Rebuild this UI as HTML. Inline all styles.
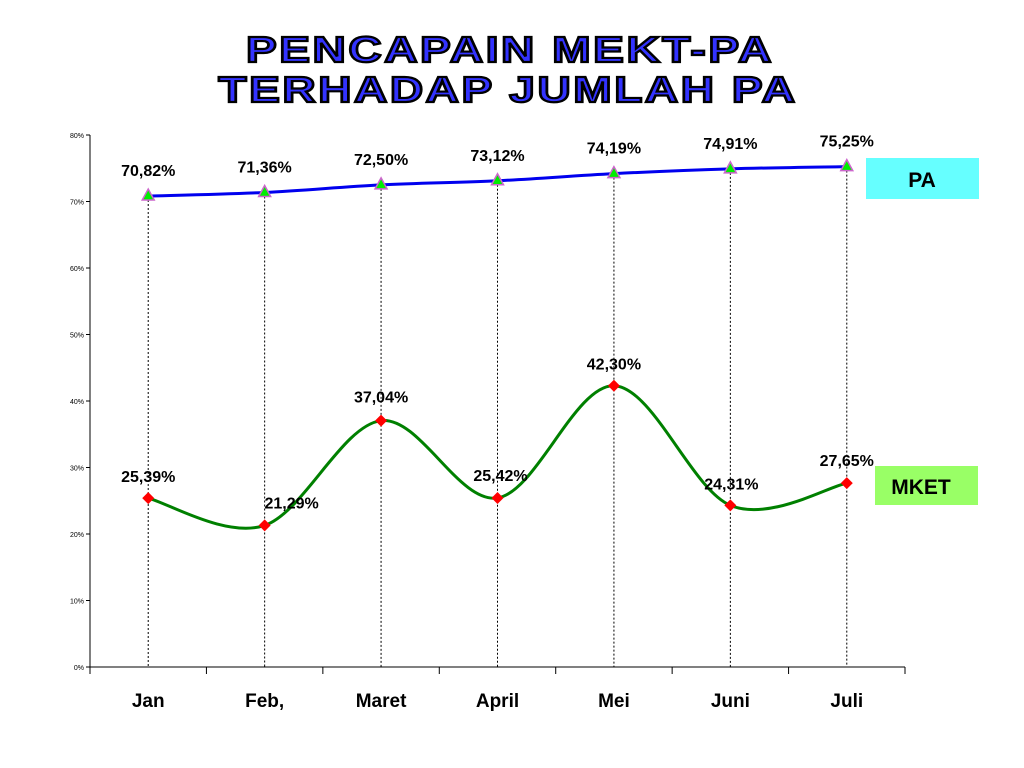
<!DOCTYPE html>
<html><head><meta charset="utf-8"><style>
body{margin:0;background:#fff;width:1024px;height:768px;overflow:hidden}
svg{display:block;font-family:"Liberation Sans",Arial,sans-serif}
</style></head><body>
<svg id="c" width="1024" height="768">
<g font-weight="bold" font-size="36" fill="#3333ff" stroke="#000" stroke-width="2.2" text-anchor="middle" letter-spacing="2">
<text x="510" y="62" transform="translate(510,0) scale(1.28,1) translate(-510,0)">PENCAPAIN MEKT-PA</text>
<text x="508" y="102" transform="translate(508,0) scale(1.28,1) translate(-508,0)">TERHADAP JUMLAH PA</text>
</g>
<rect x="866" y="158" width="113" height="41" fill="#66ffff"/>
<text x="922" y="187" text-anchor="middle" font-weight="bold" font-size="21" fill="#000">PA</text>
<rect x="875" y="466" width="103" height="39" fill="#99ff66"/>
<text x="921" y="494" text-anchor="middle" font-weight="bold" font-size="21" fill="#000">MKET</text>
</svg>
<script>
const categories=["Jan","Feb,","Maret","April","Mei","Juni","Juli"];
const paValues=[70.82,71.36,72.50,73.12,74.19,74.91,75.25];
const mketValues=[25.39,21.29,37.04,25.42,42.30,24.31,27.65];
const yTicks=[0,10,20,30,40,50,60,70,80];
const svg=document.getElementById('c');
const NS='http://www.w3.org/2000/svg';
const X0=90,X1=905,Y0=667,Y1=135;
const band=(X1-X0)/categories.length;
const x=i=>X0+band*(i+0.5);
const y=v=>Y0-(v/80)*(Y0-Y1);
function el(t,a,p){const e=document.createElementNS(NS,t);for(const k in a)e.setAttribute(k,a[k]);(p||svg).appendChild(e);return e;}
const fmt=v=>v.toFixed(2).replace('.',',')+'%';
let ax=el('line',{x1:X0,y1:Y1,x2:X0,y2:Y0,stroke:'#000','stroke-width':1});

let bx=el('line',{x1:X0,y1:Y0,x2:X1,y2:Y0,stroke:'#000','stroke-width':1});

yTicks.forEach(t=>{
 let l=el('line',{x1:X0-4,y1:y(t),x2:X0,y2:y(t),stroke:'#000'});
 
 let tx=el('text',{x:X0-6,y:y(t)+3,'font-size':7,'text-anchor':'end',fill:'#000'});tx.textContent=t+'%';
 
});
for(let i=0;i<=categories.length;i++){
 let l=el('line',{x1:X0+band*i,y1:Y0,x2:X0+band*i,y2:Y0+7,stroke:'#000'});
 
}
categories.forEach((c,i)=>{
 let tx=el('text',{x:x(i),y:707,'font-size':19,'font-weight':'bold','text-anchor':'middle'});tx.textContent=c;
 
 let d=el('line',{x1:x(i),y1:y(paValues[i]),x2:x(i),y2:Y0,stroke:'#000','stroke-dasharray':'2,2'});
 
});
function smooth(vals){
 const p=vals.map((v,i)=>[x(i),y(v)]);let d='M'+p[0][0]+','+p[0][1];
 for(let i=0;i<p.length-1;i++){const a=p[i-1]||p[i],b=p[i],c=p[i+1],e=p[i+2]||c;const t=1/3;
  d+=` C${b[0]+(c[0]-a[0])*t/2},${b[1]+(c[1]-a[1])*t/2} ${c[0]-(e[0]-b[0])*t/2},${c[1]-(e[1]-b[1])*t/2} ${c[0]},${c[1]}`;}
 return d;
}
let pl=el('path',{d:smooth(paValues),fill:'none',stroke:'#0000ee','stroke-width':3});

let ml=el('path',{d:smooth(mketValues),fill:'none',stroke:'#008000','stroke-width':3});

paValues.forEach((v,i)=>{
 const cx=x(i),cy=y(v);
 let m=el('polygon',{points:`${cx},${cy-7} ${cx-6},${cy+4} ${cx+6},${cy+4}`,fill:'#00ee00',stroke:'#cc66cc','stroke-width':1.5});
 
 let t=el('text',{x:cx,y:cy-20,'font-size':16,'font-weight':'bold','text-anchor':'middle'});t.textContent=fmt(v);
 
});
const off=[[0,-16],[27,-17],[0,-18],[3,-17],[0,-16],[1,-16],[0,-17]];
mketValues.forEach((v,i)=>{
 const cx=x(i),cy=y(v);
 let m=el('polygon',{points:`${cx},${cy-6} ${cx+6},${cy} ${cx},${cy+6} ${cx-6},${cy}`,fill:'#ff0000'});
 
 let t=el('text',{x:cx+off[i][0],y:cy+off[i][1],'font-size':16,'font-weight':'bold','text-anchor':'middle'});t.textContent=fmt(v);
 
});
</script>
</body></html>
